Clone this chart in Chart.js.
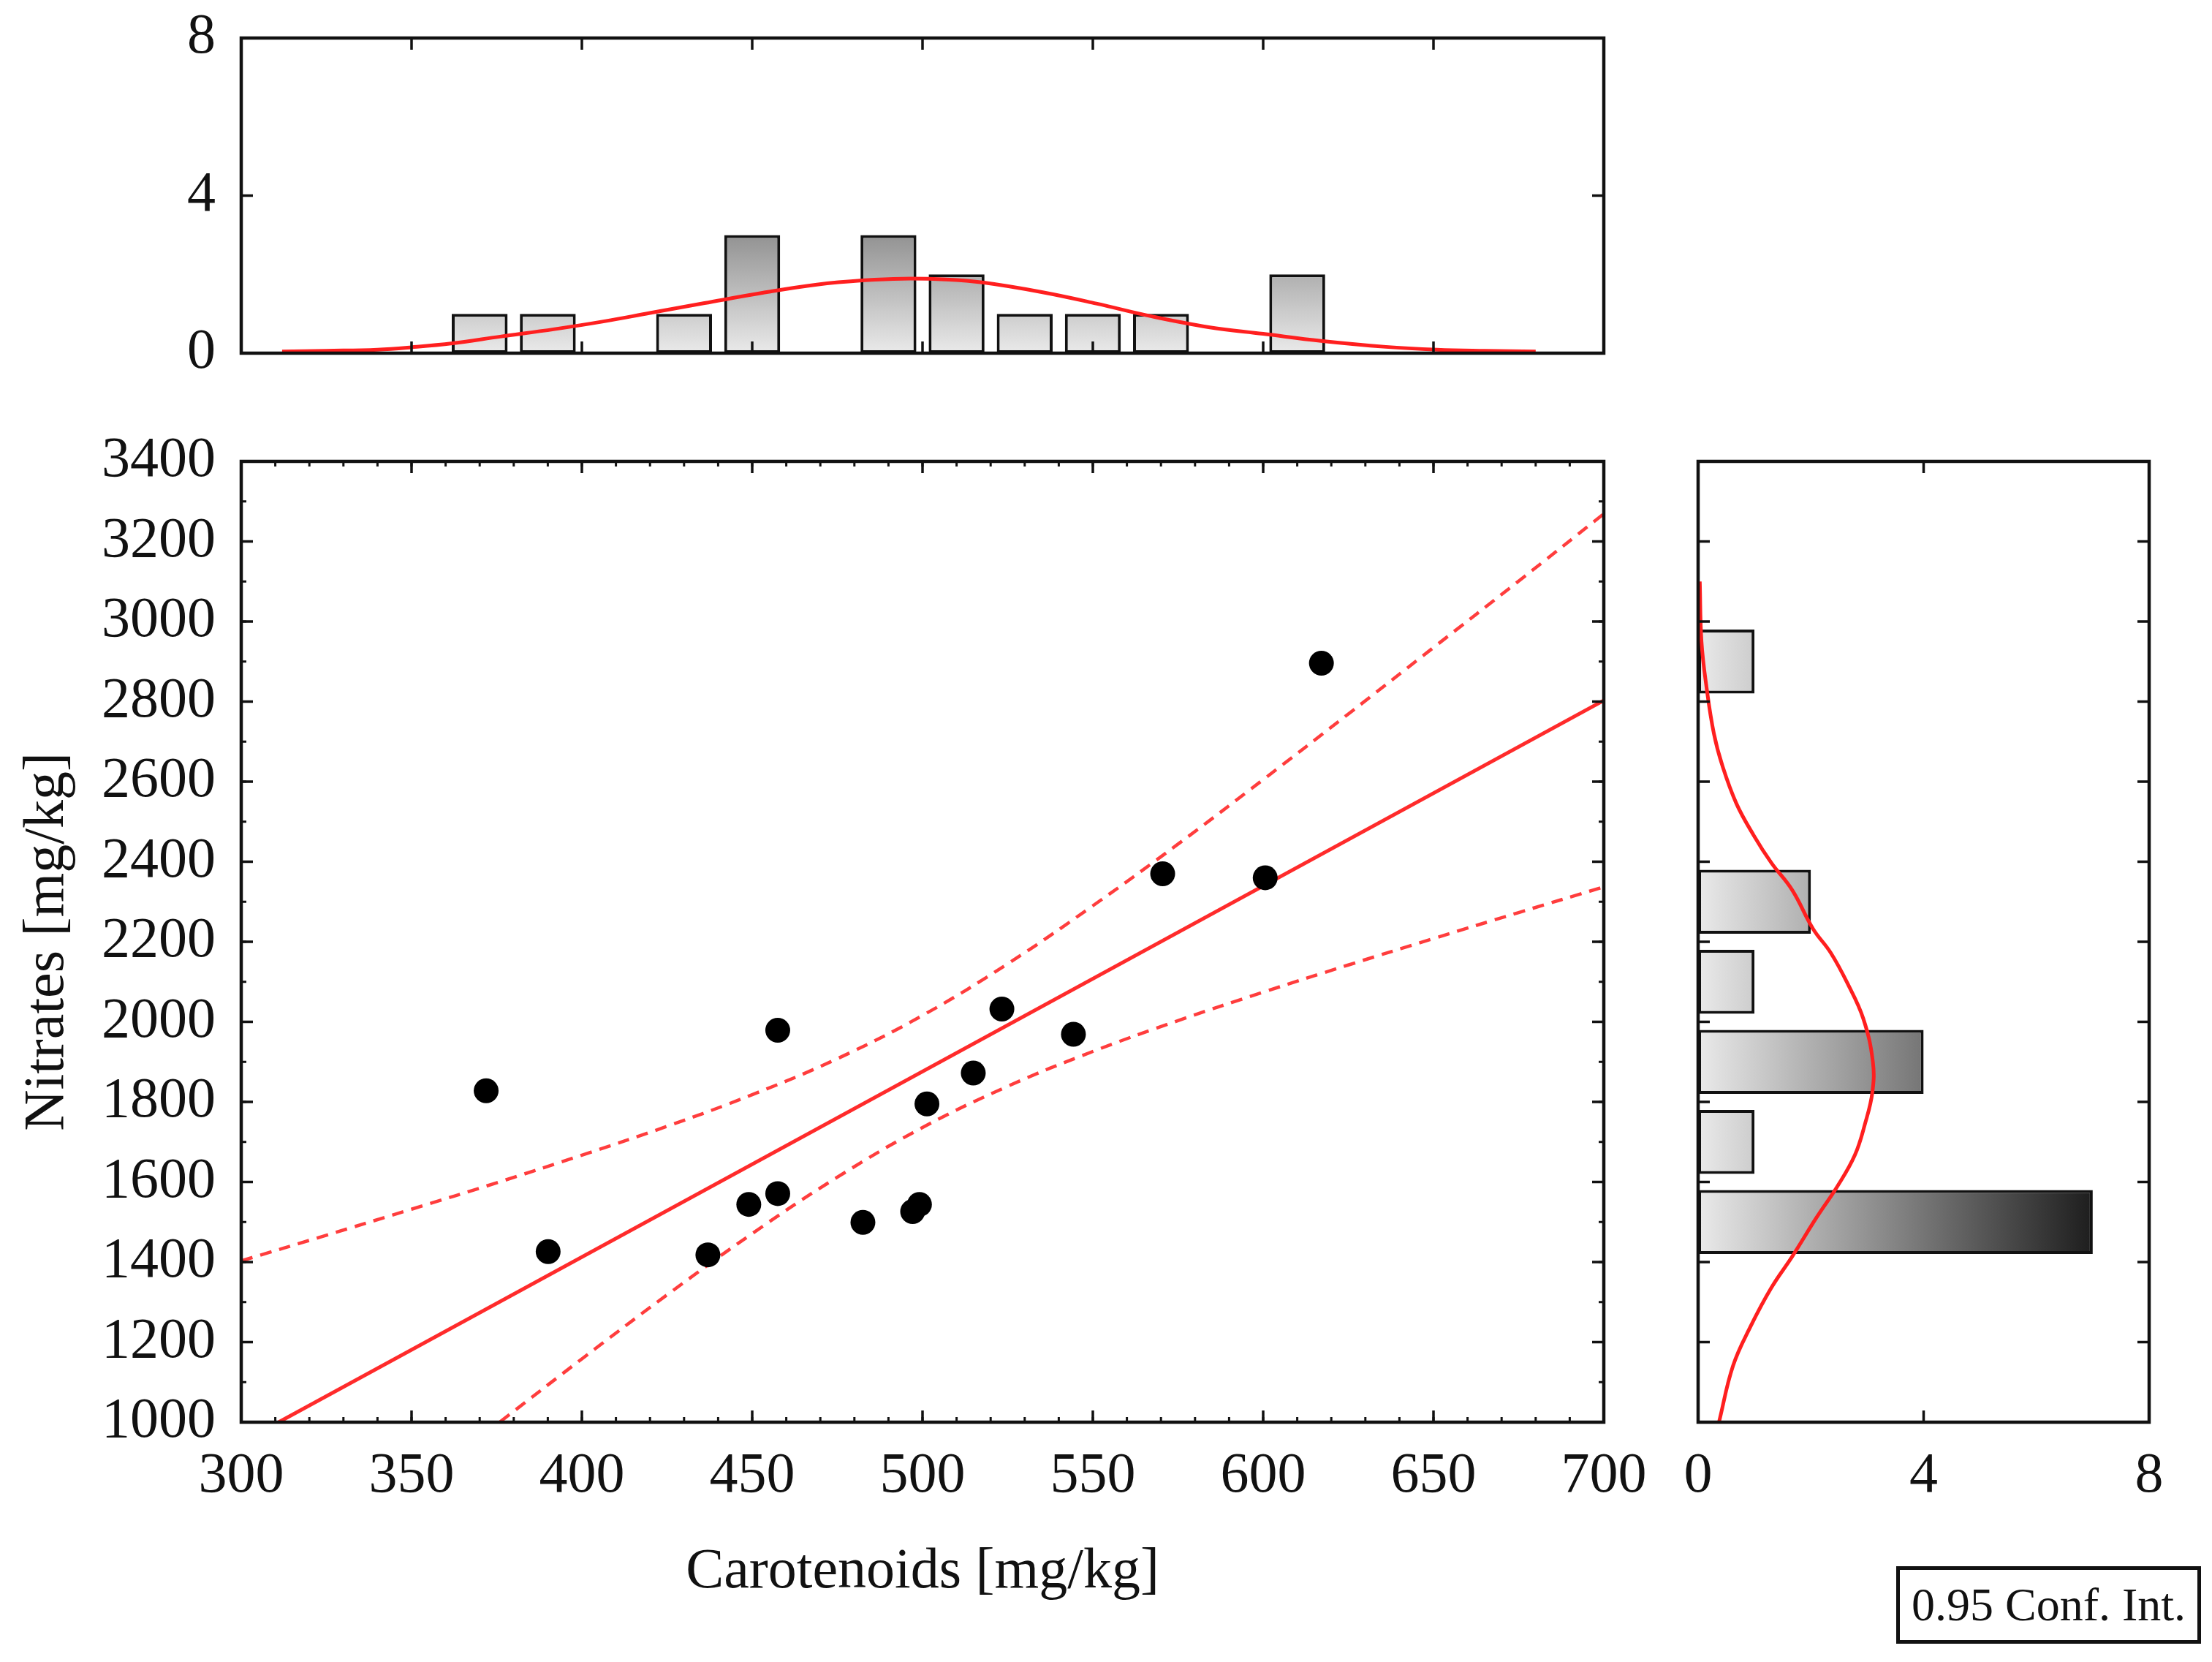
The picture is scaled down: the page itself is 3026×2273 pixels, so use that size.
<!DOCTYPE html>
<html>
<head>
<meta charset="utf-8">
<script src="https://cdn.jsdelivr.net/npm/chart.js@4.4.1/dist/chart.umd.min.js"></script>
<style>
html, body { margin: 0; padding: 0; background: #fff; width: 3026px; height: 2273px; overflow: hidden; }
canvas { position: absolute; left: 0; top: 0; }
#legend { position: absolute; left: 2594px; top: 2142px; width: 417px; height: 106px; box-sizing: border-box;
  border: 5px solid #111; font-family: 'Liberation Serif', 'Times New Roman', serif; font-size: 64px;
  line-height: 96px; text-align: center; color: #111; background: #fff; white-space: nowrap; }
</style>
</head>
<body>
<canvas id="cTop" width="3026" height="2273"></canvas>
<canvas id="cMain" width="3026" height="2273"></canvas>
<canvas id="cRight" width="3026" height="2273"></canvas>
<div id="legend"></div>
<script>
// ---------------- data ----------------
const carotenoids = [371.9, 390.1, 437.0, 449.0, 457.5, 457.5, 482.5, 497.1, 499.1, 501.3, 514.9, 523.3, 544.3, 570.5, 600.6, 617.1];
const nitrates    = [1828, 1426, 1418, 1544, 1979, 1571, 1499, 1526, 1544, 1795, 1872, 2032, 1969, 2370, 2360, 2896];

const fitX = [311, 700];
const fitY = [1000, 2803];

const upperX = [300, 325, 350, 375, 400, 425, 450, 475, 500, 525, 550, 575, 600, 625, 650, 675, 700];
const upperY = [1403, 1467, 1532, 1598, 1667, 1739, 1818, 1908, 2016, 2145, 2290, 2444, 2605, 2769, 2935, 3101, 3269];
const lowerX = [376, 400, 425, 450, 475, 500, 525, 550, 575, 600, 625, 650, 675, 700];
const lowerY = [1001, 1158, 1318, 1471, 1612, 1736, 1839, 1926, 2003, 2074, 2142, 2208, 2273, 2337];

const topBinCenters = [370, 390, 430, 450, 490, 510, 530, 550, 570, 610];
const topCounts     = [1, 1, 1, 3, 3, 2, 1, 1, 1, 2];
const topCurveX = [312, 325, 340, 350, 362, 376, 392, 406, 420, 436, 453, 469, 483, 494, 507, 518, 535, 551, 567, 584, 600, 617, 636, 651, 665, 680];
const topCurveY = [0.04, 0.06, 0.09, 0.15, 0.25, 0.42, 0.61, 0.80, 1.02, 1.27, 1.53, 1.74, 1.85, 1.89, 1.87, 1.79, 1.55, 1.26, 0.94, 0.66, 0.49, 0.31, 0.16, 0.09, 0.06, 0.04];

const rightBinCenters = [1500, 1700, 1900, 2100, 2300, 2900];
const rightCounts     = [7, 1, 4, 1, 2, 1];
const rightCurvePos = [3100, 2950, 2835, 2720, 2640, 2545, 2465, 2397, 2329, 2232, 2173, 2096, 2008, 1900, 1823, 1745, 1667, 1589, 1511, 1414, 1336, 1239, 1141, 1000];
const rightCurveVal = [0.03, 0.06, 0.15, 0.28, 0.43, 0.68, 0.99, 1.30, 1.67, 2.04, 2.35, 2.65, 2.93, 3.10, 3.09, 2.96, 2.78, 2.47, 2.10, 1.67, 1.30, 0.93, 0.62, 0.37];

const xTickVals = [300, 350, 400, 450, 500, 550, 600, 650, 700];
const yTickVals = [1000, 1200, 1400, 1600, 1800, 2000, 2200, 2400, 2600, 2800, 3000, 3200, 3400];
const countTickVals = [0, 4, 8];
const xMinorStep = 10;
const yMinorStep = 100;

const xTitle = 'Carotenoids [mg/kg]';
const yTitle = 'Nitrates [mg/kg]';
const legendText = '0.95 Conf. Int.';

// ---------------- styling / helpers ----------------
const FONT = "'Liberation Serif', 'Times New Roman', serif";
const INK = '#111';
Chart.defaults.font.family = FONT;
Chart.defaults.font.size = 78;
Chart.defaults.color = INK;

document.getElementById('legend').textContent = legendText;

function range(a, b, s) { const r = []; for (let v = a; v <= b + 1e-9; v += s) r.push(v); return r; }
function fixTicks(vals) { return (scale) => { scale.ticks = vals.map(v => ({ value: v })); }; }
const plainLabel = (v) => String(v);

function grad(axis) {
  return (context) => {
    const chart = context.chart;
    const { ctx, chartArea, scales } = chart;
    if (!chartArea) return 'rgb(200,200,200)';
    const s = scales[axis];
    const p0 = s.getPixelForValue(0), p1 = s.getPixelForValue(8);
    const g = axis === 'y' ? ctx.createLinearGradient(0, p0, 0, p1) : ctx.createLinearGradient(p0, 0, p1, 0);
    g.addColorStop(0, 'rgb(234,234,234)');
    g.addColorStop(1, 'rgb(0,0,0)');
    return g;
  };
}

const framePlugin = {
  id: 'frame',
  afterDraw(chart, args, opts) {
    const { ctx, chartArea: a } = chart;
    ctx.save();
    ctx.strokeStyle = INK;
    ctx.lineCap = 'butt';
    (opts.ticks || []).forEach(t => {
      const s = chart.scales[t.scale];
      ctx.lineWidth = t.width;
      ctx.beginPath();
      t.values.forEach(v => {
        if (v <= s.min || v >= s.max) return;
        const p = s.getPixelForValue(v);
        t.sides.forEach(side => {
          if (side === 'top') { ctx.moveTo(p, a.top); ctx.lineTo(p, a.top + t.len); }
          if (side === 'bottom') { ctx.moveTo(p, a.bottom); ctx.lineTo(p, a.bottom - t.len); }
          if (side === 'left') { ctx.moveTo(a.left, p); ctx.lineTo(a.left + t.len, p); }
          if (side === 'right') { ctx.moveTo(a.right, p); ctx.lineTo(a.right - t.len, p); }
        });
      });
      ctx.stroke();
    });
    ctx.lineWidth = opts.lineWidth;
    ctx.strokeRect(a.left, a.top, a.right - a.left, a.bottom - a.top);
    ctx.restore();
  }
};

const tickFont = { family: FONT, size: 78, lineHeight: 1.2 };
const hiddenGrid = { display: false, drawTicks: false };
const noBorder = { display: false };
const base = {
  responsive: false,
  animation: false,
  events: [],
};
function fitWidth(w) { return (s) => { s.width = w; s.paddingTop = 0; s.paddingBottom = 0; }; }
function fitHeight(h) { return (s) => { s.height = h; s.paddingLeft = 0; s.paddingRight = 0; }; }

// ---------------- main scatter ----------------
new Chart(document.getElementById('cMain'), {
  type: 'scatter',
  data: {
    datasets: [
      { label: 'Observations', data: carotenoids.map((x, i) => ({ x, y: nitrates[i] })),
        pointRadius: 17, pointHoverRadius: 17, pointBackgroundColor: '#000', pointBorderWidth: 0, order: 0 },
      { label: 'Regression', data: fitX.map((x, i) => ({ x, y: fitY[i] })), showLine: true,
        pointRadius: 0, borderColor: '#ff2b2b', borderWidth: 5, order: 1 },
      { label: 'Upper 0.95', data: upperX.map((x, i) => ({ x, y: upperY[i] })), showLine: true,
        pointRadius: 0, borderColor: '#ff3d3d', borderWidth: 4.5, borderDash: [16, 11], tension: 0.4, order: 2 },
      { label: 'Lower 0.95', data: lowerX.map((x, i) => ({ x, y: lowerY[i] })), showLine: true,
        pointRadius: 0, borderColor: '#ff3d3d', borderWidth: 4.5, borderDash: [16, 11], tension: 0.4, order: 2 }
    ]
  },
  options: Object.assign({}, base, {
    layout: { padding: { left: 0, top: 631, right: 832, bottom: 76 } },
    plugins: {
      legend: { display: false }, tooltip: { enabled: false },
      frame: {
        lineWidth: 4.5,
        ticks: [
          { scale: 'x', values: range(300, 700, xMinorStep), len: 7, width: 3, sides: ['top', 'bottom'] },
          { scale: 'x', values: xTickVals, len: 16, width: 3.5, sides: ['top', 'bottom'] },
          { scale: 'y', values: range(1000, 3400, yMinorStep), len: 7, width: 3, sides: ['left', 'right'] },
          { scale: 'y', values: yTickVals, len: 16, width: 3.5, sides: ['left', 'right'] }
        ]
      }
    },
    scales: {
      x: {
        type: 'linear', position: 'bottom', min: 300, max: 700,
        afterBuildTicks: fixTicks(xTickVals),
        ticks: { font: tickFont, padding: 28, maxRotation: 0, autoSkip: false, color: INK, callback: plainLabel },
        grid: hiddenGrid, border: noBorder,
        title: { display: true, text: xTitle, font: tickFont, padding: { top: 0, bottom: 0 }, color: INK },
        afterFit: fitHeight(252)
      },
      y: {
        type: 'linear', position: 'left', min: 1000, max: 3400,
        afterBuildTicks: fixTicks(yTickVals),
        ticks: { font: tickFont, padding: 35, autoSkip: false, color: INK, callback: plainLabel },
        grid: hiddenGrid, border: noBorder,
        title: { display: true, text: yTitle, font: tickFont, padding: { top: 19, bottom: 0 }, color: INK },
        afterFit: fitWidth(330)
      }
    }
  }),
  plugins: [framePlugin]
});

// ---------------- top histogram ----------------
new Chart(document.getElementById('cTop'), {
  type: 'bar',
  data: {
    datasets: [
      { type: 'line', label: 'Normal fit', data: topCurveX.map((x, i) => ({ x, y: topCurveY[i] })),
        borderColor: '#ff1f1f', borderWidth: 5, pointRadius: 0, tension: 0.4, order: 0 },
      { type: 'bar', label: 'Count', data: topBinCenters.map((x, i) => ({ x, y: topCounts[i] })),
        backgroundColor: grad('y'), borderColor: INK, borderWidth: 4, borderSkipped: false,
        barPercentage: 0.82, categoryPercentage: 1, order: 1 }
    ]
  },
  options: Object.assign({}, base, {
    layout: { padding: { left: 0, top: 52, right: 832, bottom: 1790 } },
    plugins: {
      legend: { display: false }, tooltip: { enabled: false },
      frame: {
        lineWidth: 4.5,
        ticks: [
          { scale: 'x', values: xTickVals, len: 16, width: 3.5, sides: ['top', 'bottom'] },
          { scale: 'y', values: countTickVals, len: 16, width: 3.5, sides: ['left', 'right'] }
        ]
      }
    },
    scales: {
      x: { type: 'linear', min: 300, max: 700, offset: false, display: false,
           afterBuildTicks: fixTicks(xTickVals) },
      y: {
        type: 'linear', position: 'left', min: 0, max: 8,
        afterBuildTicks: fixTicks(countTickVals),
        ticks: { font: tickFont, padding: 35, autoSkip: false, color: INK, callback: plainLabel },
        grid: hiddenGrid, border: noBorder,
        afterFit: fitWidth(330)
      }
    }
  }),
  plugins: [framePlugin]
});

// ---------------- right histogram ----------------
new Chart(document.getElementById('cRight'), {
  type: 'bar',
  data: {
    datasets: [
      { type: 'line', indexAxis: 'y', label: 'Normal fit', data: rightCurvePos.map((y, i) => ({ x: rightCurveVal[i], y })),
        borderColor: '#ff1f1f', borderWidth: 5, pointRadius: 0, tension: 0.4, order: 0 },
      { type: 'bar', indexAxis: 'y', label: 'Count', data: rightBinCenters.map((y, i) => ({ x: rightCounts[i], y })),
        backgroundColor: grad('x'), borderColor: INK, borderWidth: 4, borderSkipped: false,
        barPercentage: 0.8, categoryPercentage: 1, order: 1 }
    ]
  },
  options: Object.assign({}, base, {
    indexAxis: 'y',
    layout: { padding: { left: 2323, top: 631, right: 86, bottom: 178 } },
    plugins: {
      legend: { display: false }, tooltip: { enabled: false },
      frame: {
        lineWidth: 4.5,
        ticks: [
          { scale: 'x', values: countTickVals, len: 16, width: 3.5, sides: ['top', 'bottom'] },
          { scale: 'y', values: yTickVals, len: 16, width: 3.5, sides: ['left', 'right'] }
        ]
      }
    },
    scales: {
      x: {
        type: 'linear', position: 'bottom', min: 0, max: 8, offset: false,
        afterBuildTicks: fixTicks(countTickVals),
        ticks: { font: tickFont, padding: 28, autoSkip: false, maxRotation: 0, color: INK, callback: plainLabel },
        grid: hiddenGrid, border: noBorder,
        afterFit: fitHeight(150)
      },
      y: { type: 'linear', min: 1000, max: 3400, offset: false, display: false,
           afterBuildTicks: fixTicks(yTickVals) }
    }
  }),
  plugins: [framePlugin]
});
</script>
</body>
</html>
